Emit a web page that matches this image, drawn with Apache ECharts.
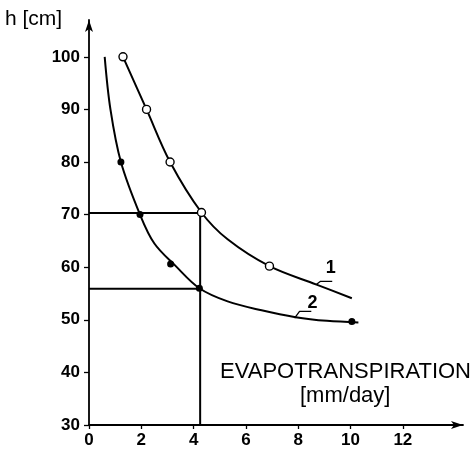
<!DOCTYPE html>
<html>
<head>
<meta charset="utf-8">
<script src="https://cdn.jsdelivr.net/npm/echarts@6/dist/echarts.min.js"></script>
<style>
  html, body { margin: 0; padding: 0; background: #fff; }
  #chart { width: 475px; height: 450px; }
</style>
</head>
<body>
<div id="chart"></div>
<script>
// points: [evapotranspiration mm/day, h cm]
const curve1Line = [[1.3, 100], [2.2, 90], [3.1, 80], [4.3, 70.4], [5.3, 65.3], [6.9, 60.2], [8.7, 56.7], [10.05, 54.1]]
const curve1Points = [[1.3, 100], [2.2, 90], [3.1, 80], [4.3, 70.4], [6.9, 60.2]]
const curve2Line = [[0.6, 100], [0.82, 90], [1.22, 80], [1.95, 70], [2.5, 64.5], [3.3, 60.3], [4.22, 56], [5.3, 53.5], [6.6, 51.8], [7.9, 50.5], [9.1, 49.8], [10.3, 49.5]]
const curve2Points = [[1.22, 80], [1.95, 70], [3.12, 60.6], [4.22, 56], [10.05, 49.7]]

// reading lines
const guideUpper = [[0, 70.3], [4.25, 70.3], [4.25, 30]]
const guideLower = [[0, 55.9], [4.25, 55.9]]

// curve labels and their leaders
const leader1 = [[8.69, 56.7], [8.84, 57.3], [9.3, 57.3]]
const leader2 = [[7.86, 50.3], [8.05, 51.6], [8.5, 51.6]]
const curveLabels = [{ value: [9.24, 59.8], name: '1' }, { value: [8.55, 53.2], name: '2' }]

const xTicks = [0, 2, 4, 6, 8, 10, 12]
const yTicks = [30, 40, 50, 60, 70, 80, 90, 100]

const ink = '#000'
const chart = echarts.init(document.getElementById('chart'))

const plainLine = (data, width) => ({
  type: 'line',
  data: data,
  symbol: 'none',
  silent: true,
  lineStyle: { color: ink, width: width }
})

chart.setOption({
  animation: false,
  textStyle: { fontFamily: 'Liberation Sans, Arial, sans-serif' },
  grid: { left: 89, right: 12, top: 20, bottom: 25 },
  xAxis: {
    type: 'value',
    min: 0,
    max: 14.3,
    interval: 2,
    axisLine: { lineStyle: { color: ink, width: 1.8 }, symbol: ['none', 'arrow'], symbolSize: [6, 12] },
    axisTick: { length: 4, lineStyle: { color: ink, width: 1.3 }, customValues: xTicks },
    axisLabel: { customValues: xTicks, color: ink, fontSize: 17, fontWeight: 'bold', margin: 7 },
    splitLine: { show: false }
  },
  yAxis: {
    type: 'value',
    min: 30,
    max: 107,
    interval: 10,
    axisLine: { show: true, lineStyle: { color: ink, width: 1.8 }, symbol: ['none', 'arrow'], symbolSize: [6, 12] },
    axisTick: { show: true, length: 5, lineStyle: { color: ink, width: 1.3 }, customValues: yTicks },
    axisLabel: { customValues: yTicks, color: ink, fontSize: 17, fontWeight: 'bold', margin: 9 },
    splitLine: { show: false }
  },
  graphic: [
    { type: 'text', left: 5, top: 9, style: { text: 'h [cm]', fontSize: 21, fill: ink, fontFamily: 'Liberation Sans, Arial, sans-serif' } },
    { type: 'text', left: 220, top: 361, style: { text: 'EVAPOTRANSPIRATION', fontSize: 22, fill: ink, fontFamily: 'Liberation Sans, Arial, sans-serif' } },
    { type: 'text', left: 300, top: 385, style: { text: '[mm/day]', fontSize: 22, fill: ink, fontFamily: 'Liberation Sans, Arial, sans-serif' } }
  ],
  series: [
    plainLine(guideUpper, 2),
    plainLine(guideLower, 2),
    Object.assign(plainLine(curve1Line, 2), { smooth: 0.35 }),
    Object.assign(plainLine(curve2Line, 2), { smooth: 0.35 }),
    plainLine(leader1, 1.3),
    plainLine(leader2, 1.3),
    {
      type: 'scatter',
      data: curve1Points,
      symbol: 'circle',
      symbolSize: 8,
      itemStyle: { color: '#fff', borderColor: ink, borderWidth: 1.4, opacity: 1 },
      z: 5
    },
    {
      type: 'scatter',
      data: curve2Points,
      symbol: 'circle',
      symbolSize: 7,
      itemStyle: { color: ink, opacity: 1 },
      z: 5
    },
    {
      type: 'scatter',
      data: curveLabels,
      symbolSize: 0,
      silent: true,
      itemStyle: { color: ink, opacity: 1 },
      label: { show: true, position: 'inside', formatter: '{b}', color: ink, opacity: 1, textBorderWidth: 0, fontSize: 18, fontWeight: 'bold' }
    }
  ]
})
</script>
</body>
</html>
